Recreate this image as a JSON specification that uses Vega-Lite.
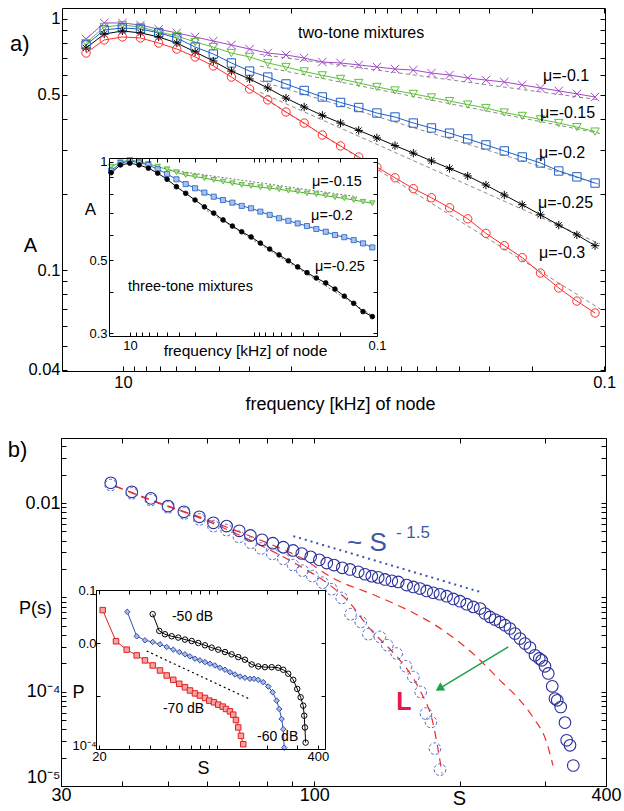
{
"width":624,"height":811,"autosize":{"type":"none"},"padding":0,"background":"white",
"config":{"font":"Liberation Sans","view":{"stroke":null},"axis":{"grid":false,"domainColor":"#000","tickColor":"#000","labelColor":"#000","titleColor":"#000","titleFontWeight":"normal","labelFlush":false,"labelOverlap":false,"labelBound":false,"tickSize":-5,"domainWidth":1,"tickWidth":1,"labelFont":"Liberation Sans","titleFont":"Liberation Sans"}},
"datasets":{
"a2":[
{"f":14.23,"m10":0.832,"m15":0.802,"m20":0.788,"m25":0.766,"m30":0.732},
{"f":11.96,"m10":0.964,"m15":0.929,"m20":0.904,"m25":0.871,"m30":0.825},
{"f":10.05,"m10":0.964,"m15":0.946,"m20":0.921,"m25":0.896,"m30":0.848},
{"f":8.45,"m10":0.946,"m15":0.929,"m20":0.912,"m25":0.880,"m30":0.840},
{"f":7.10,"m10":0.910,"m15":0.888,"m20":0.880,"m25":0.848,"m30":0.802},
{"f":5.97,"m10":0.880,"m15":0.856,"m20":0.840,"m25":0.802,"m30":0.759},
{"f":5.01,"m10":0.848,"m15":0.810,"m20":0.773,"m25":0.739,"m30":0.706},
{"f":4.21,"m10":0.817,"m15":0.773,"m20":0.725,"m25":0.680,"m30":0.650},
{"f":3.54,"m10":0.788,"m15":0.732,"m20":0.668,"m25":0.620,"m30":0.587},
{"f":2.975,"m10":0.759,"m15":0.706,"m20":0.620,"m25":0.577,"m30":0.526},
{"f":2.50,"m10":0.732,"m15":0.668,"m20":0.587,"m25":0.531,"m30":0.476},
{"f":2.10,"m10":0.719,"m15":0.644,"m20":0.551,"m25":0.484,"m30":0.426},
{"f":1.765,"m10":0.699,"m15":0.618,"m20":0.519,"m25":0.446,"m30":0.385},
{"f":1.483,"m10":0.674,"m15":0.596,"m20":0.489,"m25":0.413,"m30":0.345},
{"f":1.246,"m10":0.668,"m15":0.577,"m20":0.465,"m25":0.385,"m30":0.312},
{"f":1.047,"m10":0.656,"m15":0.556,"m20":0.444,"m25":0.360,"m30":0.282},
{"f":0.880,"m10":0.644,"m15":0.536,"m20":0.422,"m25":0.336,"m30":0.257},
{"f":0.740,"m10":0.632,"m15":0.519,"m20":0.407,"m25":0.313,"m30":0.233},
{"f":0.621,"m10":0.626,"m15":0.503,"m20":0.385,"m25":0.292,"m30":0.211},
{"f":0.522,"m10":0.609,"m15":0.487,"m20":0.368,"m25":0.272,"m30":0.194},
{"f":0.439,"m10":0.598,"m15":0.471,"m20":0.351,"m25":0.254,"m30":0.177},
{"f":0.369,"m10":0.582,"m15":0.456,"m20":0.333,"m25":0.237,"m30":0.160},
{"f":0.310,"m10":0.571,"m15":0.442,"m20":0.315,"m25":0.218,"m30":0.140},
{"f":0.260,"m10":0.561,"m15":0.424,"m20":0.298,"m25":0.199,"m30":0.125},
{"f":0.219,"m10":0.546,"m15":0.411,"m20":0.282,"m25":0.182,"m30":0.112},
{"f":0.184,"m10":0.531,"m15":0.398,"m20":0.267,"m25":0.166,"m30":0.0973},
{"f":0.1544,"m10":0.517,"m15":0.385,"m20":0.248,"m25":0.151,"m30":0.0848},
{"f":0.1298,"m10":0.503,"m15":0.371,"m20":0.235,"m25":0.138,"m30":0.0752},
{"f":0.1091,"m10":0.489,"m15":0.356,"m20":0.222,"m25":0.125,"m30":0.0674}],
"a2fit":[{"f":2.693,"A":0.723,"mu":"m10"},{"f":0.104,"A":0.476,"mu":"m10"},{"f":2.693,"A":0.649,"mu":"m15"},{"f":0.104,"A":0.350,"mu":"m15"},{"f":2.693,"A":0.567,"mu":"m20"},{"f":0.104,"A":0.219,"mu":"m20"},{"f":2.693,"A":0.511,"mu":"m25"},{"f":0.104,"A":0.127,"mu":"m25"},{"f":2.693,"A":0.494,"mu":"m30"},{"f":0.104,"A":0.070,"mu":"m30"}],
"a2txt":[{"f":0.1795,"A":0.593,"label":"μ=-0.1"},{"f":0.1846,"A":0.422,"label":"μ=-0.15"},{"f":0.1865,"A":0.2924,"label":"μ=-0.2"},{"f":0.1883,"A":0.1849,"label":"μ=-0.25"},{"f":0.1865,"A":0.1169,"label":"μ=-0.3"},{"f":1.872,"A":0.880,"label":"two-tone mixtures"}],
"a3":[
{"f":14.23,"m15":0.967,"m20":0.941,"m25":0.927},
{"f":11.96,"m15":0.998,"m20":0.991,"m25":0.979},
{"f":10.05,"m15":1.014,"m20":1.007,"m25":0.991},
{"f":8.45,"m15":1.002,"m20":0.995,"m25":0.979},
{"f":7.10,"m15":0.986,"m20":0.979,"m25":0.957},
{"f":5.97,"m15":0.967,"m20":0.950,"m25":0.924},
{"f":5.01,"m15":0.950,"m20":0.919,"m25":0.885},
{"f":4.21,"m15":0.930,"m20":0.885,"m25":0.840},
{"f":3.54,"m15":0.912,"m20":0.856,"m25":0.802},
{"f":2.975,"m15":0.902,"m20":0.831,"m25":0.765},
{"f":2.50,"m15":0.892,"m20":0.806,"m25":0.729},
{"f":2.10,"m15":0.881,"m20":0.783,"m25":0.698},
{"f":1.765,"m15":0.871,"m20":0.765,"m25":0.665},
{"f":1.483,"m15":0.861,"m20":0.751,"m25":0.637},
{"f":1.246,"m15":0.851,"m20":0.734,"m25":0.612},
{"f":1.047,"m15":0.845,"m20":0.722,"m25":0.590},
{"f":0.880,"m15":0.837,"m20":0.705,"m25":0.565},
{"f":0.740,"m15":0.831,"m20":0.689,"m25":0.542},
{"f":0.621,"m15":0.825,"m20":0.673,"m25":0.520},
{"f":0.522,"m15":0.817,"m20":0.661,"m25":0.499},
{"f":0.439,"m15":0.811,"m20":0.649,"m25":0.478},
{"f":0.369,"m15":0.802,"m20":0.637,"m25":0.459},
{"f":0.310,"m15":0.797,"m20":0.624,"m25":0.442},
{"f":0.260,"m15":0.789,"m20":0.612,"m25":0.427},
{"f":0.219,"m15":0.780,"m20":0.598,"m25":0.409},
{"f":0.184,"m15":0.774,"m20":0.589,"m25":0.389},
{"f":0.1544,"m15":0.765,"m20":0.577,"m25":0.370},
{"f":0.1298,"m15":0.756,"m20":0.564,"m25":0.349},
{"f":0.1091,"m15":0.748,"m20":0.548,"m25":0.337}],
"a3fit":[{"f":4.74,"A":0.945,"mu":"m15"},{"f":0.145,"A":0.783,"mu":"m15"},{"f":2.38,"A":0.710,"mu":"m25"},{"f":0.11,"A":0.340,"mu":"m25"}],
"a3txt":[{"f":0.336,"A":0.869,"label":"μ=-0.15"},{"f":0.342,"A":0.684,"label":"μ=-0.2"},{"f":0.318,"A":0.477,"label":"μ=-0.25"},{"f":10.38,"A":0.4147,"label":"three-tone mixtures"}],
"bc":[{"s":38.0,"P":0.01643},{"s":42.0,"P":0.01318},{"s":46.0,"P":0.01122},{"s":49.9,"P":0.00929},{"s":53.8,"P":0.00808},{"s":57.9,"P":0.00715},{"s":61.9,"P":0.00618},{"s":65.9,"P":0.00570},{"s":70.0,"P":0.00508},{"s":73.8,"P":0.00454},{"s":78.0,"P":0.00408},{"s":82.1,"P":0.00376},{"s":86.3,"P":0.00341},{"s":90.4,"P":0.00315},{"s":94.2,"P":0.00292},{"s":98.3,"P":0.00269},{"s":102.4,"P":0.00250},{"s":106.1,"P":0.00231},{"s":109.8,"P":0.00220},{"s":114.2,"P":0.00206},{"s":118.5,"P":0.00198},{"s":123.2,"P":0.00187},{"s":127.2,"P":0.00176},{"s":131.4,"P":0.00168},{"s":135.5,"P":0.00163},{"s":139.9,"P":0.00155},{"s":144.5,"P":0.00150},{"s":149.0,"P":0.00146},{"s":155.1,"P":0.00135},{"s":160.1,"P":0.00129},{"s":165.2,"P":0.00124},{"s":170.6,"P":0.00117},{"s":176.0,"P":0.00112},{"s":181.7,"P":0.00108},{"s":187.6,"P":0.00103},{"s":193.6,"P":0.000962},{"s":199.8,"P":0.000911},{"s":206.3,"P":0.000847},{"s":212.9,"P":0.000793},{"s":219.8,"P":0.000762},{"s":225.0,"P":0.000675},{"s":230.4,"P":0.000621},{"s":236.0,"P":0.000582},{"s":241.7,"P":0.000549},{"s":247.5,"P":0.000507},{"s":253.4,"P":0.000468},{"s":259.5,"P":0.000414},{"s":265.8,"P":0.000366},{"s":272.2,"P":0.000324},{"s":278.7,"P":0.000294},{"s":285.4,"P":0.000243},{"s":291.3,"P":0.000225},{"s":294.7,"P":0.000215},{"s":299.3,"P":0.000186},{"s":304.0,"P":0.000156},{"s":309.8,"P":0.000114},{"s":313.8,"P":0.0000845},{"s":317.3,"P":0.0000810},{"s":322.5,"P":0.0000688},{"s":329.1,"P":0.0000470},{"s":331.8,"P":0.0000305},{"s":337.1,"P":0.0000270},{"s":342.4,"P":0.0000165}],
"bd":[{"s":38.0,"P":0.01553},{"s":42.0,"P":0.01268},{"s":46.0,"P":0.01076},{"s":49.9,"P":0.00900},{"s":53.9,"P":0.00777},{"s":57.9,"P":0.00671},{"s":61.9,"P":0.00570},{"s":65.9,"P":0.00517},{"s":69.9,"P":0.00439},{"s":73.9,"P":0.00379},{"s":77.6,"P":0.00330},{"s":81.9,"P":0.00289},{"s":86.3,"P":0.00256},{"s":90.4,"P":0.00220},{"s":94.5,"P":0.00192},{"s":99.1,"P":0.00168},{"s":104.0,"P":0.00143},{"s":108.6,"P":0.00122},{"s":113.9,"P":0.000985},{"s":118.8,"P":0.000663},{"s":124.7,"P":0.000549},{"s":129.3,"P":0.000407},{"s":136.6,"P":0.000381},{"s":141.5,"P":0.000311},{"s":147.9,"P":0.000254},{"s":154.6,"P":0.000186},{"s":160.1,"P":0.000143},{"s":165.8,"P":0.0000993},{"s":170.0,"P":0.0000586},{"s":174.1,"P":0.0000477},{"s":177.4,"P":0.0000249},{"s":181.7,"P":0.0000149}],
"bf":[{"s":38.8,"P":0.01515,"c":"c1"},{"s":45.8,"P":0.01076,"c":"c1"},{"s":58.1,"P":0.00693,"c":"c1"},{"s":73.6,"P":0.00405,"c":"c1"},{"s":93.4,"P":0.00214,"c":"c1"},{"s":107.7,"P":0.001348,"c":"c1"},{"s":118.5,"P":0.000868,"c":"c1"},{"s":128.4,"P":0.000507,"c":"c1"},{"s":150.3,"P":0.000215,"c":"c1"},{"s":157.6,"P":0.000157,"c":"c1"},{"s":165.2,"P":0.000103,"c":"c1"},{"s":175.8,"P":0.0000462,"c":"c1"},{"s":183.5,"P":0.0000136,"c":"c1"},
{"s":38.8,"P":0.01515,"c":"c2"},{"s":48.0,"P":0.01,"c":"c2"},{"s":58.1,"P":0.0071,"c":"c2"},{"s":70.2,"P":0.00492,"c":"c2"},{"s":84.9,"P":0.00333,"c":"c2"},{"s":93.4,"P":0.00267,"c":"c2"},{"s":109.3,"P":0.0016,"c":"c2"},{"s":134.7,"P":0.00103,"c":"c2"},{"s":157.6,"P":0.000714,"c":"c2"},{"s":184.3,"P":0.000449,"c":"c2"},{"s":216.6,"P":0.000232,"c":"c2"},{"s":241.7,"P":0.000132,"c":"c2"},{"s":265.8,"P":0.000081,"c":"c2"},{"s":282.7,"P":0.0000535,"c":"c2"},{"s":302.2,"P":0.0000283,"c":"c2"},{"s":310.9,"P":0.0000165,"c":"c2"}],
"bp":[{"s":90.5,"P":0.004465},{"s":219.8,"P":0.001144}],
"barrow":[{"s":251.4,"P":0.000298},{"s":181.1,"P":0.000108}],
"bhead":[{"s":181.1,"P":0.000108}],
"bi":[
{"s":21.04,"P":0.04174,"db":"r"},{"s":25.25,"P":0.01077,"db":"r"},{"s":29.22,"P":0.00749,"db":"r"},{"s":33.51,"P":0.00584,"db":"r"},{"s":37.53,"P":0.00470,"db":"r"},{"s":41.72,"P":0.00377,"db":"r"},{"s":46.09,"P":0.00303,"db":"r"},{"s":50.53,"P":0.00244,"db":"r"},{"s":55.29,"P":0.00202,"db":"r"},{"s":60.02,"P":0.00170,"db":"r"},{"s":64.89,"P":0.00146,"db":"r"},{"s":69.48,"P":0.00127,"db":"r"},{"s":74.39,"P":0.00112,"db":"r"},{"s":79.65,"P":0.00102,"db":"r"},{"s":85.31,"P":0.000920,"db":"r"},{"s":90.48,"P":0.000818,"db":"r"},{"s":96.47,"P":0.000760,"db":"r"},{"s":102.3,"P":0.000687,"db":"r"},{"s":108.7,"P":0.000630,"db":"r"},{"s":113.7,"P":0.000569,"db":"r"},{"s":120.1,"P":0.000513,"db":"r"},{"s":125.6,"P":0.000444,"db":"r"},{"s":130.4,"P":0.000352,"db":"r"},{"s":134.5,"P":0.000255,"db":"r"},{"s":139.6,"P":0.000177,"db":"r"},{"s":144.1,"P":0.000123,"db":"r"},
{"s":29.46,"P":0.03875,"db":"b"},{"s":33.51,"P":0.01340,"db":"b"},{"s":37.53,"P":0.01125,"db":"b"},{"s":41.72,"P":0.01045,"db":"b"},{"s":46.09,"P":0.00945,"db":"b"},{"s":50.53,"P":0.00839,"db":"b"},{"s":55.29,"P":0.00749,"db":"b"},{"s":60.02,"P":0.00675,"db":"b"},{"s":64.89,"P":0.00611,"db":"b"},{"s":69.48,"P":0.00559,"db":"b"},{"s":74.39,"P":0.00506,"db":"b"},{"s":79.65,"P":0.00470,"db":"b"},{"s":85.31,"P":0.00436,"db":"b"},{"s":91.36,"P":0.00406,"db":"b"},{"s":97.81,"P":0.00377,"db":"b"},{"s":104.7,"P":0.00341,"db":"b"},{"s":112.2,"P":0.00313,"db":"b"},{"s":120.1,"P":0.00282,"db":"b"},{"s":128.6,"P":0.00255,"db":"b"},{"s":137.7,"P":0.00233,"db":"b"},{"s":147.4,"P":0.00221,"db":"b"},{"s":157.9,"P":0.00211,"db":"b"},{"s":166.7,"P":0.00211,"db":"b"},{"s":176.9,"P":0.00202,"db":"b"},{"s":189.4,"P":0.00182,"db":"b"},{"s":202.8,"P":0.00151,"db":"b"},{"s":215.4,"P":0.00118,"db":"b"},{"s":227.5,"P":0.000818,"db":"b"},{"s":235.7,"P":0.000569,"db":"b"},{"s":243.6,"P":0.000368,"db":"b"},{"s":249.0,"P":0.000237,"db":"b"},{"s":252.4,"P":0.000106,"db":"b"},
{"s":41.72,"P":0.03504,"db":"k"},{"s":45.65,"P":0.01689,"db":"k"},{"s":49.35,"P":0.01462,"db":"k"},{"s":54.09,"P":0.01340,"db":"k"},{"s":59.20,"P":0.01266,"db":"k"},{"s":64.89,"P":0.01160,"db":"k"},{"s":71.11,"P":0.01091,"db":"k"},{"s":77.82,"P":0.01,"db":"k"},{"s":85.31,"P":0.00904,"db":"k"},{"s":93.50,"P":0.00818,"db":"k"},{"s":102.3,"P":0.00749,"db":"k"},{"s":112.2,"P":0.00675,"db":"k"},{"s":122.9,"P":0.00611,"db":"k"},{"s":134.5,"P":0.00542,"db":"k"},{"s":147.4,"P":0.00484,"db":"k"},{"s":161.7,"P":0.00394,"db":"k"},{"s":176.9,"P":0.00361,"db":"k"},{"s":193.9,"P":0.00350,"db":"k"},{"s":212.5,"P":0.00350,"db":"k"},{"s":232.5,"P":0.00341,"db":"k"},{"s":249.0,"P":0.00313,"db":"k"},{"s":266.6,"P":0.00263,"db":"k"},{"s":285.5,"P":0.00202,"db":"k"},{"s":301.6,"P":0.00136,"db":"k"},{"s":316.0,"P":0.000945,"db":"k"},{"s":327.4,"P":0.000657,"db":"k"},{"s":331.9,"P":0.000425,"db":"k"},{"s":335.1,"P":0.000255,"db":"k"},{"s":338.3,"P":0.000132,"db":"k"}],
"bifit":[{"s":38.42,"P":0.00705},{"s":156.4,"P":0.000881}],
"bitxt":[{"s":54.3,"P":0.0307,"label":"-50 dB"},{"s":48.0,"P":0.000577,"label":"-70 dB"},{"s":173.8,"P":0.0001697,"label":"-60 dB"}]
},
"layer":[
{"layer":[
 {"data":{"name":"a2fit"},"mark":{"type":"line","color":"#8a8a8a","strokeWidth":1,"strokeDash":[4,3]},
  "encoding":{"x":{"field":"f","type":"quantitative","scale":{"type":"log","domain":[0.0992,17.91],"range":[62,605],"reverse":true,"nice":false},"axis":null},
   "y":{"field":"A","type":"quantitative","scale":{"type":"log","domain":[0.0396,1.106],"range":[371,8],"nice":false},"axis":null},
   "detail":{"field":"mu"}}},
 {"data":{"name":"a2"},"transform":[{"fold":["m10","m15","m20","m25","m30"],"as":["mu","A"]}],"mark":{"type":"line","strokeWidth":1},
  "encoding":{"x":{"field":"f","type":"quantitative","scale":{"type":"log","domain":[0.0992,17.91],"range":[62,605],"reverse":true,"nice":false},
    "axis":{"orient":"bottom","offset":-440,"zindex":1,"values":[10,9,8,7,6,5,4,3,2,1,0.9,0.8,0.7,0.6,0.5,0.4,0.3,0.2,0.1],"labelExpr":"datum.value==10?'10':datum.value==0.1?'0.1':''","labelFontSize":16.5,"labelPadding":8,"title":"frequency [kHz] of node","titleFontSize":18,"titleX":340,"titleY":33,"titleAlign":"center","titleBaseline":"middle"}},
   "y":{"field":"A","type":"quantitative","scale":{"type":"log","domain":[0.0396,1.106],"range":[371,8],"nice":false},
    "axis":{"orient":"left","offset":-62,"zindex":1,"values":[1,0.9,0.8,0.7,0.6,0.5,0.4,0.3,0.2,0.1,0.09,0.08,0.07,0.06,0.05,0.04],"labelExpr":"datum.value==1?'1':datum.value==0.5?'0.5':datum.value==0.1?'0.1':datum.value==0.04?'0.04':''","labelFontSize":16.5,"labelPadding":7,"title":"A","titleAngle":0,"titleFontSize":20,"titleX":-32,"titleY":245,"titleAlign":"center","titleBaseline":"middle"}},
   "color":{"field":"mu","type":"nominal","scale":{"domain":["m10","m15","m20","m25","m30"],"range":["#a349c9","#5ec13a","#1f5fc4","#000000","#ff2b2b"]},"legend":null}}},
 {"data":{"name":"a2"},"transform":[{"fold":["m10","m15","m20","m25","m30"],"as":["mu","A"]}],"mark":{"type":"point","filled":false,"size":70,"strokeWidth":1,"opacity":1},
  "encoding":{"x":{"field":"f","type":"quantitative","scale":{"type":"log","domain":[0.0992,17.91],"range":[62,605],"reverse":true,"nice":false},
    "axis":{"orient":"top","offset":-8,"zindex":1,"values":[10,9,8,7,6,5,4,3,2,1,0.9,0.8,0.7,0.6,0.5,0.4,0.3,0.2,0.1],"labels":false,"title":null}},
   "y":{"field":"A","type":"quantitative","scale":{"type":"log","domain":[0.0396,1.106],"range":[371,8],"nice":false},
    "axis":{"orient":"right","offset":-19,"zindex":1,"values":[1,0.9,0.8,0.7,0.6,0.5,0.4,0.3,0.2,0.1,0.09,0.08,0.07,0.06,0.05,0.04],"labels":false,"title":null}},
   "color":{"field":"mu","type":"nominal","scale":{"domain":["m10","m15","m20","m25","m30"],"range":["#a349c9","#5ec13a","#1f5fc4","#000000","#ff2b2b"]},"legend":null},
   "shape":{"field":"mu","type":"nominal","scale":{"domain":["m10","m15","m20","m25","m30"],"range":["M-1,-1L1,1M-1,1L1,-1","triangle-down","square","M-1,0L1,0M0,-1L0,1M-0.7,-0.7L0.7,0.7M-0.7,0.7L0.7,-0.7","circle"]},"legend":null}}},
 {"data":{"name":"a2txt"},"mark":{"type":"text","align":"left","baseline":"middle","fontSize":16,"color":"#000"},
  "encoding":{"x":{"field":"f","type":"quantitative","scale":{"type":"log","domain":[0.0992,17.91],"range":[62,605],"reverse":true,"nice":false},"axis":null},
   "y":{"field":"A","type":"quantitative","scale":{"type":"log","domain":[0.0396,1.106],"range":[371,8],"nice":false},"axis":null},
   "text":{"field":"label"}}},
 {"data":{"values":[{"f":29.46,"A":0.795,"label":"a)"}]},"mark":{"type":"text","align":"left","baseline":"middle","fontSize":22,"color":"#000"},
  "encoding":{"x":{"field":"f","type":"quantitative","scale":{"type":"log","domain":[0.0992,17.91],"range":[62,605],"reverse":true,"nice":false},"axis":null},
   "y":{"field":"A","type":"quantitative","scale":{"type":"log","domain":[0.0396,1.106],"range":[371,8],"nice":false},"axis":null},
   "text":{"field":"label"}}}
 ],
 "resolve":{"scale":{"x":"shared","y":"shared"},"axis":{"x":"independent","y":"independent"}}},
{"layer":[
 {"data":{"values":[{}]},"mark":{"type":"rect","fill":"white"},
  "encoding":{"x":{"datum":14.8,"type":"quantitative","scale":{"type":"log","domain":[0.1,14.8],"range":[109,377],"reverse":true,"nice":false},"axis":null},"x2":{"datum":0.1},
   "y":{"datum":0.294,"type":"quantitative","scale":{"type":"log","domain":[0.294,1.028],"range":[336,158],"nice":false},"axis":null},"y2":{"datum":1.028}}},
 {"data":{"name":"a3fit"},"mark":{"type":"line","color":"#777","strokeWidth":1,"strokeDash":[2,2]},
  "encoding":{"x":{"field":"f","type":"quantitative","scale":{"type":"log","domain":[0.1,14.8],"range":[109,377],"reverse":true,"nice":false},"axis":null},
   "y":{"field":"A","type":"quantitative","scale":{"type":"log","domain":[0.294,1.028],"range":[336,158],"nice":false},"axis":null},
   "detail":{"field":"mu"}}},
 {"data":{"name":"a3"},"transform":[{"fold":["m15","m20","m25"],"as":["mu","A"]}],"mark":{"type":"line","strokeWidth":1},
  "encoding":{"x":{"field":"f","type":"quantitative","scale":{"type":"log","domain":[0.1,14.8],"range":[109,377],"reverse":true,"nice":false},
    "axis":{"orient":"bottom","offset":-475,"zindex":1,"tickSize":-4,"values":[10,9,8,7,6,5,4,3,2,1,0.9,0.8,0.7,0.6,0.5,0.4,0.3,0.2,0.1],"labelExpr":"datum.value==10?'10':datum.value==0.1?'0.1':''","labelFontSize":13,"labelPadding":7,"title":"frequency [kHz] of node","titleFontSize":15.5,"titleX":245,"titleY":14,"titleAlign":"center","titleBaseline":"middle"}},
   "y":{"field":"A","type":"quantitative","scale":{"type":"log","domain":[0.294,1.028],"range":[336,158],"nice":false},
    "axis":{"orient":"left","offset":-109,"zindex":1,"tickSize":-4,"values":[1,0.9,0.8,0.7,0.6,0.5,0.4,0.3],"labelExpr":"datum.value==1?'1':datum.value==0.5?'0.5':datum.value==0.3?'0.3':''","labelFontSize":13,"labelPadding":6,"title":"A","titleAngle":0,"titleFontSize":17,"titleX":-19,"titleY":209,"titleAlign":"center","titleBaseline":"middle"}},
   "color":{"field":"mu","type":"nominal","scale":{"domain":["m15","m20","m25"],"range":["#4cae2c","#1f5fc4","#000000"]},"legend":null}}},
 {"data":{"name":"a3"},"transform":[{"fold":["m15","m20","m25"],"as":["mu","A"]}],"mark":{"type":"point","filled":true,"strokeWidth":0.8,"opacity":1},
  "encoding":{"x":{"field":"f","type":"quantitative","scale":{"type":"log","domain":[0.1,14.8],"range":[109,377],"reverse":true,"nice":false},
    "axis":{"orient":"top","offset":-158,"zindex":1,"tickSize":-4,"values":[10,9,8,7,6,5,4,3,2,1,0.9,0.8,0.7,0.6,0.5,0.4,0.3,0.2,0.1],"labels":false,"title":null}},
   "y":{"field":"A","type":"quantitative","scale":{"type":"log","domain":[0.294,1.028],"range":[336,158],"nice":false},
    "axis":{"orient":"right","offset":-247,"zindex":1,"tickSize":-4,"values":[1,0.9,0.8,0.7,0.6,0.5,0.4,0.3],"labels":false,"title":null}},
   "shape":{"field":"mu","type":"nominal","scale":{"domain":["m15","m20","m25"],"range":["triangle-down","square","circle"]},"legend":null},
   "stroke":{"field":"mu","type":"nominal","scale":{"domain":["m15","m20","m25"],"range":["#4cae2c","#1f5fc4","#000000"]},"legend":null},
   "fill":{"field":"mu","type":"nominal","scale":{"domain":["m15","m20","m25"],"range":["#b5e09c","#a9c0ee","#000000"]},"legend":null},
   "size":{"field":"mu","type":"nominal","scale":{"domain":["m15","m20","m25"],"range":[30,22,12]},"legend":null}}},
 {"data":{"name":"a3txt"},"mark":{"type":"text","align":"left","baseline":"middle","fontSize":14.5,"color":"#000"},
  "encoding":{"x":{"field":"f","type":"quantitative","scale":{"type":"log","domain":[0.1,14.8],"range":[109,377],"reverse":true,"nice":false},"axis":null},
   "y":{"field":"A","type":"quantitative","scale":{"type":"log","domain":[0.294,1.028],"range":[336,158],"nice":false},"axis":null},
   "text":{"field":"label"}}}
 ],
 "resolve":{"scale":{"x":"shared","y":"shared"},"axis":{"x":"independent","y":"independent"}}},
{"layer":[
 {"data":{"name":"bf"},"mark":{"type":"line","color":"#ee2a2a","strokeWidth":1.2,"strokeDash":[8,6],"interpolate":"monotone"},
  "encoding":{"x":{"field":"s","type":"quantitative","scale":{"type":"log","domain":[30,400],"range":[61,606],"nice":false},"axis":null},
   "y":{"field":"P","type":"quantitative","scale":{"type":"log","domain":[0.00001,0.049],"range":[786,438],"nice":false},"axis":null},
   "detail":{"field":"c"}}},
 {"data":{"name":"bc"},"mark":{"type":"point","shape":"circle","filled":false,"size":135,"color":"#2b2f9c","strokeWidth":1.1,"opacity":1},
  "encoding":{"x":{"field":"s","type":"quantitative","scale":{"type":"log","domain":[30,400],"range":[61,606],"nice":false},
    "axis":{"orient":"bottom","offset":-25,"zindex":1,"values":[30,40,50,60,70,80,90,100,200,300,400],"labelExpr":"datum.value==30?'30':datum.value==100?'100':datum.value==400?'400':''","labelFontSize":18,"labelPadding":5,"title":"S","titleFontSize":20,"titleX":459,"titleY":12,"titleAlign":"center","titleBaseline":"middle"}},
   "y":{"field":"P","type":"quantitative","scale":{"type":"log","domain":[0.00001,0.049],"range":[786,438],"nice":false},
    "axis":{"orient":"left","offset":-61,"zindex":1,"values":[0.00001,0.00002,0.00003,0.00004,0.00005,0.00006,0.00007,0.00008,0.00009,0.0001,0.0002,0.0003,0.0004,0.0005,0.0006,0.0007,0.0008,0.0009,0.001,0.002,0.003,0.004,0.005,0.006,0.007,0.008,0.009,0.01,0.02,0.03,0.04],"labelExpr":"datum.value==0.01?'0.01':datum.value==0.0001?'10⁻⁴':datum.value==0.00001?'10⁻⁵':''","labelBaseline":{"condition":{"test":"datum.value==0.00001","value":"bottom"},"value":"middle"},"labelFontSize":18,"labelPadding":6,"title":"P(s)","titleAngle":0,"titleFontSize":18,"titleX":-26,"titleY":608,"titleAlign":"center","titleBaseline":"middle"}}}},
 {"data":{"name":"bd"},"mark":{"type":"point","shape":"circle","filled":false,"size":135,"color":"#4a66c4","strokeWidth":1,"strokeDash":[3,2],"opacity":1},
  "encoding":{"x":{"field":"s","type":"quantitative","scale":{"type":"log","domain":[30,400],"range":[61,606],"nice":false},
    "axis":{"orient":"top","offset":-438,"zindex":1,"values":[30,40,50,60,70,80,90,100,200,300,400],"labels":false,"title":null}},
   "y":{"field":"P","type":"quantitative","scale":{"type":"log","domain":[0.00001,0.049],"range":[786,438],"nice":false},
    "axis":{"orient":"right","offset":-18,"zindex":1,"values":[0.00001,0.00002,0.00003,0.00004,0.00005,0.00006,0.00007,0.00008,0.00009,0.0001,0.0002,0.0003,0.0004,0.0005,0.0006,0.0007,0.0008,0.0009,0.001,0.002,0.003,0.004,0.005,0.006,0.007,0.008,0.009,0.01,0.02,0.03,0.04],"labels":false,"title":null}}}},
 {"data":{"name":"bp"},"mark":{"type":"line","color":"#3a55b0","strokeWidth":2,"strokeDash":[2,4]},
  "encoding":{"x":{"field":"s","type":"quantitative","scale":{"type":"log","domain":[30,400],"range":[61,606],"nice":false},"axis":null},
   "y":{"field":"P","type":"quantitative","scale":{"type":"log","domain":[0.00001,0.049],"range":[786,438],"nice":false},"axis":null}}},
 {"data":{"name":"barrow"},"mark":{"type":"line","color":"#1fa24a","strokeWidth":1.5},
  "encoding":{"x":{"field":"s","type":"quantitative","scale":{"type":"log","domain":[30,400],"range":[61,606],"nice":false},"axis":null},
   "y":{"field":"P","type":"quantitative","scale":{"type":"log","domain":[0.00001,0.049],"range":[786,438],"nice":false},"axis":null}}},
 {"data":{"name":"bhead"},"mark":{"type":"point","shape":"triangle-up","filled":true,"color":"#1fa24a","size":90,"angle":239,"opacity":1},
  "encoding":{"x":{"field":"s","type":"quantitative","scale":{"type":"log","domain":[30,400],"range":[61,606],"nice":false},"axis":null},
   "y":{"field":"P","type":"quantitative","scale":{"type":"log","domain":[0.00001,0.049],"range":[786,438],"nice":false},"axis":null}}},
 {"data":{"values":[{"s":116.8,"P":0.00376,"label":"~ S"}]},"mark":{"type":"text","align":"left","baseline":"middle","fontSize":26,"color":"#3f57a8"},
  "encoding":{"x":{"field":"s","type":"quantitative","scale":{"type":"log","domain":[30,400],"range":[61,606],"nice":false},"axis":null},
   "y":{"field":"P","type":"quantitative","scale":{"type":"log","domain":[0.00001,0.049],"range":[786,438],"nice":false},"axis":null},"text":{"field":"label"}}},
 {"data":{"values":[{"s":147.4,"P":0.0048,"label":"- 1.5"}]},"mark":{"type":"text","align":"left","baseline":"middle","fontSize":17,"color":"#3f57a8"},
  "encoding":{"x":{"field":"s","type":"quantitative","scale":{"type":"log","domain":[30,400],"range":[61,606],"nice":false},"axis":null},
   "y":{"field":"P","type":"quantitative","scale":{"type":"log","domain":[0.00001,0.049],"range":[786,438],"nice":false},"axis":null},"text":{"field":"label"}}},
 {"data":{"values":[{"s":153.1,"P":0.0000772,"label":"L"}]},"mark":{"type":"text","align":"center","baseline":"middle","fontSize":25,"fontWeight":"bold","color":"#e8174a"},
  "encoding":{"x":{"field":"s","type":"quantitative","scale":{"type":"log","domain":[30,400],"range":[61,606],"nice":false},"axis":null},
   "y":{"field":"P","type":"quantitative","scale":{"type":"log","domain":[0.00001,0.049],"range":[786,438],"nice":false},"axis":null},"text":{"field":"label"}}},
 {"data":{"values":[{"s":23.3,"P":0.0365,"label":"b)"}]},"mark":{"type":"text","align":"left","baseline":"middle","fontSize":22,"color":"#000"},
  "encoding":{"x":{"field":"s","type":"quantitative","scale":{"type":"log","domain":[30,400],"range":[61,606],"nice":false},"axis":null},
   "y":{"field":"P","type":"quantitative","scale":{"type":"log","domain":[0.00001,0.049],"range":[786,438],"nice":false},"axis":null},"text":{"field":"label"}}}
 ],
 "resolve":{"scale":{"x":"shared","y":"shared"},"axis":{"x":"independent","y":"independent"}}},
{"layer":[
 {"data":{"values":[{}]},"mark":{"type":"rect","fill":"white"},
  "encoding":{"x":{"datum":19.2,"type":"quantitative","scale":{"type":"log","domain":[19.2,441],"range":[96,325],"nice":false},"axis":null},"x2":{"datum":441},
   "y":{"datum":0.0001,"type":"quantitative","scale":{"type":"log","domain":[0.0001,0.1],"range":[749,590],"nice":false},"axis":null},"y2":{"datum":0.1}}},
 {"data":{"name":"bifit"},"mark":{"type":"line","color":"#000","strokeWidth":1.2,"strokeDash":[2,3]},
  "encoding":{"x":{"field":"s","type":"quantitative","scale":{"type":"log","domain":[19.2,441],"range":[96,325],"nice":false},"axis":null},
   "y":{"field":"P","type":"quantitative","scale":{"type":"log","domain":[0.0001,0.1],"range":[749,590],"nice":false},"axis":null}}},
 {"data":{"name":"bi"},"mark":{"type":"line","strokeWidth":1},
  "encoding":{"x":{"field":"s","type":"quantitative","scale":{"type":"log","domain":[19.2,441],"range":[96,325],"nice":false},
    "axis":{"orient":"bottom","offset":-62,"zindex":1,"tickSize":-4,"values":[20,30,40,50,60,70,80,90,100,200,300,400],"labelExpr":"datum.value==20?'20':datum.value==400?'400':''","labelFontSize":13,"labelPadding":5,"title":"S","titleFontSize":18,"titleX":203,"titleY":19,"titleAlign":"center","titleBaseline":"middle"}},
   "y":{"field":"P","type":"quantitative","scale":{"type":"log","domain":[0.0001,0.1],"range":[749,590],"nice":false},
    "axis":{"orient":"left","offset":-96,"zindex":1,"tickSize":-4,"values":[0.1,0.01,0.001,0.0001],"labelExpr":"datum.value==0.1?'0.1':datum.value==0.01?'0.0':datum.value==0.0001?'10⁻⁴':''","labelBaseline":{"condition":{"test":"datum.value==0.0001","value":"alphabetic"},"value":"middle"},"labelFontSize":13,"labelPadding":4,"title":"P","titleAngle":0,"titleFontSize":18,"titleX":-18,"titleY":692,"titleAlign":"center","titleBaseline":"middle"}},
   "color":{"field":"db","type":"nominal","scale":{"domain":["r","b","k"],"range":["#e02020","#3050b0","#000000"]},"legend":null}}},
 {"data":{"name":"bi"},"mark":{"type":"point","filled":true,"strokeWidth":1,"size":30,"opacity":1},
  "encoding":{"x":{"field":"s","type":"quantitative","scale":{"type":"log","domain":[19.2,441],"range":[96,325],"nice":false},
    "axis":{"orient":"top","offset":-590,"zindex":1,"tickSize":-4,"values":[20,30,40,50,60,70,80,90,100,200,300,400],"labels":false,"title":null}},
   "y":{"field":"P","type":"quantitative","scale":{"type":"log","domain":[0.0001,0.1],"range":[749,590],"nice":false},
    "axis":{"orient":"right","offset":-299,"zindex":1,"tickSize":-4,"values":[0.1,0.01,0.001,0.0001],"labels":false,"title":null}},
   "shape":{"field":"db","type":"nominal","scale":{"domain":["r","b","k"],"range":["square","diamond","circle"]},"legend":null},
   "stroke":{"field":"db","type":"nominal","scale":{"domain":["r","b","k"],"range":["#e02020","#3050b0","#000000"]},"legend":null},
   "fill":{"field":"db","type":"nominal","scale":{"domain":["r","b","k"],"range":["#f5a3a3","#aab8e6","transparent"]},"legend":null}}},
 {"data":{"name":"bitxt"},"mark":{"type":"text","align":"left","baseline":"middle","fontSize":14,"color":"#000"},
  "encoding":{"x":{"field":"s","type":"quantitative","scale":{"type":"log","domain":[19.2,441],"range":[96,325],"nice":false},"axis":null},
   "y":{"field":"P","type":"quantitative","scale":{"type":"log","domain":[0.0001,0.1],"range":[749,590],"nice":false},"axis":null},"text":{"field":"label"}}}
 ],
 "resolve":{"scale":{"x":"shared","y":"shared"},"axis":{"x":"independent","y":"independent"}}}
],
"resolve":{"scale":{"x":"independent","y":"independent","color":"independent","shape":"independent","fill":"independent","stroke":"independent","size":"independent"},"axis":{"x":"independent","y":"independent"}}
}
